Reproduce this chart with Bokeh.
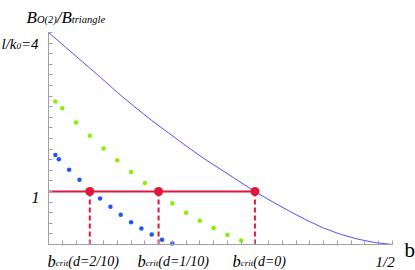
from bokeh.plotting import figure
from bokeh.models import Range1d, FixedTicker, Label, LinearAxis
from bokeh.embed import file_html
from bokeh.resources import INLINE

# ---------------- data ----------------
curve_b = [0.0, 0.025, 0.05, 0.075, 0.10, 0.125, 0.15, 0.175, 0.20, 0.225, 0.25,
           0.275, 0.30, 0.325, 0.35, 0.375, 0.40, 0.425, 0.45, 0.475, 0.50]
curve_v = [4.00, 3.72, 3.44, 3.16, 2.87, 2.60, 2.34, 2.10, 1.86, 1.63, 1.42,
           1.21, 1.00, 0.81, 0.63, 0.46, 0.31, 0.19, 0.10, 0.035, 0.0]

green_b = [0.01, 0.02, 0.04, 0.06, 0.08, 0.10, 0.12, 0.14, 0.16, 0.18, 0.20,
           0.22, 0.24, 0.26, 0.28]
green_v = [2.70, 2.57, 2.30, 2.05, 1.81, 1.59, 1.37, 1.16, 0.97, 0.78, 0.60,
           0.45, 0.31, 0.18, 0.075]

blue_b = [0.010, 0.015, 0.030, 0.045, 0.060, 0.075, 0.090, 0.105, 0.120,
          0.135, 0.150, 0.165, 0.180]
blue_v = [1.69, 1.61, 1.41, 1.22, 1.03, 0.87, 0.71, 0.56, 0.42, 0.30, 0.19,
          0.09, 0.02]

bcrit = [0.06, 0.16, 0.30]
bcrit_d = ["2/10", "1/10", "0"]
level = 1.0

x_ticks = [0.0, 0.02, 0.04, 0.06, 0.08, 0.10, 0.12, 0.14, 0.16, 0.18, 0.20, 0.22,
           0.24, 0.26, 0.28, 0.30, 0.32, 0.34, 0.36, 0.38, 0.40, 0.42, 0.44,
           0.46, 0.48, 0.50]
y_ticks = [0.0, 0.2, 0.4, 0.6, 0.8, 1.0, 1.2, 1.4, 1.6, 1.8, 2.0, 2.2, 2.4, 2.6,
           2.8, 3.0, 3.2, 3.4, 3.6, 3.8, 4.0]
XMAX, YMAX = 0.5, 4.0

# ---------------- layout (pixels) ----------------
WIDTH, HEIGHT = 415, 270
ORIGIN_X, ORIGIN_Y = 48, 244        # pixel position of data (0, 0)
PX_PER_X = 688.0                    # pixels per unit of b
PX_PER_Y = 53.0                     # pixels per unit of ratio

x_range = Range1d(-ORIGIN_X / PX_PER_X, (WIDTH - ORIGIN_X) / PX_PER_X)
y_range = Range1d(-(HEIGHT - ORIGIN_Y) / PX_PER_Y, ORIGIN_Y / PX_PER_Y)

p = figure(width=WIDTH, height=HEIGHT, x_range=x_range, y_range=y_range,
           output_backend="svg", toolbar_location=None, x_axis_type=None,
           y_axis_type=None, min_border=0)
p.outline_line_color = None
p.grid.visible = False
p.background_fill_color = "white"
p.border_fill_color = "white"

AX = "#a0a0a0"
xax = LinearAxis(fixed_location=0, bounds=(0, XMAX),
                 ticker=FixedTicker(ticks=x_ticks))
yax = LinearAxis(fixed_location=0, bounds=(0, YMAX),
                 ticker=FixedTicker(ticks=y_ticks))
for ax in (xax, yax):
    ax.axis_line_color = AX
    ax.major_tick_line_color = AX
    ax.major_tick_in = 4
    ax.major_tick_out = 0
    ax.minor_tick_line_color = None
    ax.major_label_text_color = None
p.add_layout(xax, "below")
p.add_layout(yax, "left")

# curves and points
p.line(curve_b, curve_v, line_color="#4f4fff", line_width=1)
p.scatter(green_b, green_v, size=4.5, fill_color="#86f000", line_color=None)
p.scatter(blue_b, blue_v, size=4.5, fill_color="#1f55ff", line_color=None)

RED = "#e0163c"
p.segment(x0=[0], y0=[level], x1=[max(bcrit)], y1=[level], line_color=RED,
          line_width=2)
p.segment(x0=bcrit, y0=[0] * len(bcrit), x1=bcrit, y1=[level] * len(bcrit),
          line_color=RED, line_width=2, line_dash="5 3")
p.scatter(bcrit, [level] * len(bcrit), size=9, fill_color=RED, line_color=None)

# ---------------- text ----------------
W = {"B": 611, "O": 722, "(": 333, ")": 333, "2": 500, "/": 278, "t": 278,
     "r": 389, "i": 278, "a": 500, "n": 500, "g": 500, "l": 278, "e": 444,
     "b": 500, "c": 444, "d": 500, "=": 675, "1": 500, "0": 500, "k": 444,
     "4": 500}


def X(px):
    return (px - ORIGIN_X) / PX_PER_X


def Y(py):
    return (ORIGIN_Y - py) / PX_PER_Y


FONT = "Liberation Serif"


def rich(px, py, segs, style="italic"):
    cur = px
    for txt, size, dy in segs:
        p.add_layout(Label(x=X(cur), y=Y(py + dy), text=txt,
                           text_font=FONT, text_font_style=style,
                           text_font_size=f"{size}px", text_color="black",
                           text_align="left", text_baseline="alphabetic"))
        cur += sum(W.get(ch, 500) for ch in txt) * size / 1000.0


# title
rich(26, 17, [("B", 17, 0), ("O(2)", 10.5, 2), ("/B", 17, 0),
              ("triangle", 10.5, 2)])
# y labels
rich(1, 43, [("l/k", 15, 0), ("0", 9, 2), ("=4", 15, 0)])
rich(31, 197, [("1", 16, 0)])
# x labels
xlabel_left = [47, 137, 232]
for left, d in zip(xlabel_left, bcrit_d):
    rich(left, 261, [("b", 16.5, 0), ("crit", 9, 1.5), (f"(d={d})", 14, 0)])
rich(375, 261, [("1/2", 15, 0)])
rich(404, 249, [("b", 21, 0)], style="normal")

open("out.html", "w").write(file_html(p, INLINE))
